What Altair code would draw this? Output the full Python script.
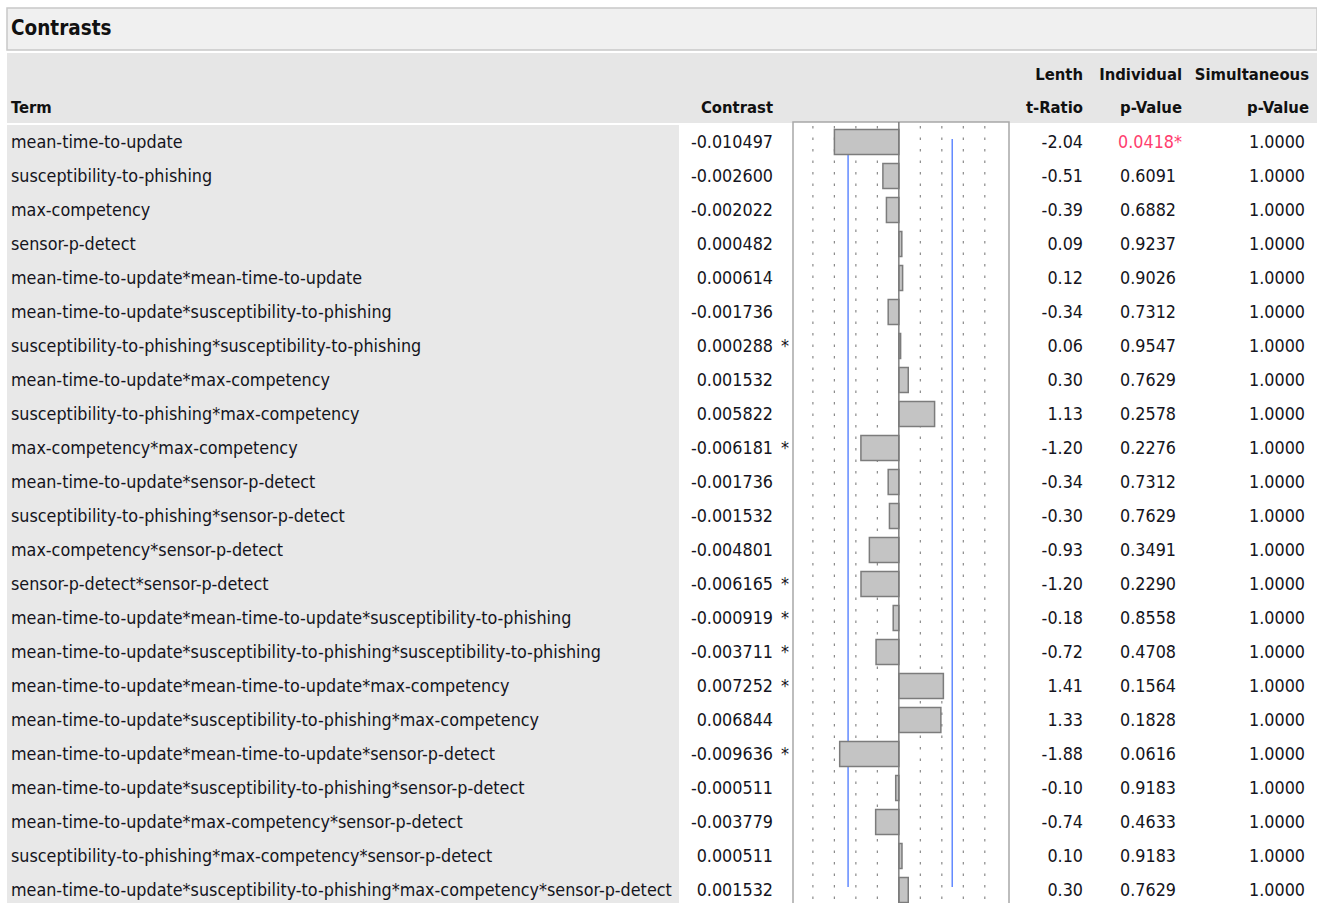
import altair as alt
import pandas as pd

terms = [
    "mean-time-to-update",
    "susceptibility-to-phishing",
    "max-competency",
    "sensor-p-detect",
    "mean-time-to-update*mean-time-to-update",
    "mean-time-to-update*susceptibility-to-phishing",
    "susceptibility-to-phishing*susceptibility-to-phishing",
    "mean-time-to-update*max-competency",
    "susceptibility-to-phishing*max-competency",
    "max-competency*max-competency",
    "mean-time-to-update*sensor-p-detect",
    "susceptibility-to-phishing*sensor-p-detect",
    "max-competency*sensor-p-detect",
    "sensor-p-detect*sensor-p-detect",
    "mean-time-to-update*mean-time-to-update*susceptibility-to-phishing",
    "mean-time-to-update*susceptibility-to-phishing*susceptibility-to-phishing",
    "mean-time-to-update*mean-time-to-update*max-competency",
    "mean-time-to-update*susceptibility-to-phishing*max-competency",
    "mean-time-to-update*mean-time-to-update*sensor-p-detect",
    "mean-time-to-update*susceptibility-to-phishing*sensor-p-detect",
    "mean-time-to-update*max-competency*sensor-p-detect",
    "susceptibility-to-phishing*max-competency*sensor-p-detect",
    "mean-time-to-update*susceptibility-to-phishing*max-competency*sensor-p-detect",
]
contrast = [-0.010497, -0.002600, -0.002022, 0.000482, 0.000614, -0.001736,
            0.000288, 0.001532, 0.005822, -0.006181, -0.001736, -0.001532,
            -0.004801, -0.006165, -0.000919, -0.003711, 0.007252, 0.006844,
            -0.009636, -0.000511, -0.003779, 0.000511, 0.001532]
contrast_flag = ["", "", "", "", "", "", "*", "", "", "*", "", "", "", "*",
                 "*", "*", "*", "", "*", "", "", "", ""]
t_ratio = [-2.04, -0.51, -0.39, 0.09, 0.12, -0.34, 0.06, 0.30, 1.13, -1.20,
           -0.34, -0.30, -0.93, -1.20, -0.18, -0.72, 1.41, 1.33, -1.88, -0.10,
           -0.74, 0.10, 0.30]
p_individual = [0.0418, 0.6091, 0.6882, 0.9237, 0.9026, 0.7312, 0.9547,
                0.7629, 0.2578, 0.2276, 0.7312, 0.7629, 0.3491, 0.2290,
                0.8558, 0.4708, 0.1564, 0.1828, 0.0616, 0.9183, 0.4633,
                0.9183, 0.7629]
p_simultaneous = [1.0] * 23
grid_values = [-0.014, -0.0105, -0.007, -0.0035, 0.0035, 0.007, 0.0105, 0.014]
margin_values = [-0.00827, 0.00869]
title_text = "Contrasts"
header_labels = ["Term", "Contrast", "Lenth", "t-Ratio", "Individual", "p-Value",
                 "Simultaneous", "p-Value"]

FONT = "DejaVu Sans Condensed, DejaVu Sans, sans-serif"
FS = 17.8
HFS = 16.5
TXT = "#141420"

df = pd.DataFrame({
    "i": list(range(len(terms))),
    "term": terms,
    "contrast": contrast,
    "cflag": contrast_flag,
    "t": t_ratio,
    "p": p_individual,
    "ps": p_simultaneous,
})
df["ctext"] = df["contrast"].map(lambda v: f"{v:.6f}")
df["ttext"] = df["t"].map(lambda v: f"{v:.2f}")
df["ptext"] = [f"{v:.4f}" + ("*" if v < 0.05 else "") for v in p_individual]
df["sig"] = [1 if v < 0.05 else 0 for v in p_individual]
df["pstext"] = df["ps"].map(lambda v: f"{v:.4f}")

xs = alt.Scale(domain=[-0.01724, 0.01794], range=[793, 1009])
ys = alt.Scale(domain=[-0.5, 22.5], range=[125, 907])

base = alt.Chart(df)
one = alt.Chart(alt.Data(values=[{"a": 1}]))

# background panels
title_bg = one.mark_rect(fill="#f0f0f0", stroke="#c8c8c8", strokeWidth=1.5).encode(
    x=alt.value(7), x2=alt.value(1317), y=alt.value(8), y2=alt.value(50))
header_bg = one.mark_rect(fill="#e6e6e6").encode(
    x=alt.value(7), x2=alt.value(1317), y=alt.value(53), y2=alt.value(123))
term_bg = one.mark_rect(fill="#e8e8e8").encode(
    x=alt.value(7), x2=alt.value(679), y=alt.value(125), y2=alt.value(903))

title = one.mark_text(text=title_text, font=FONT, fontSize=20.5, fontWeight="bold",
                      align="left", baseline="middle", color="#111111").encode(
    x=alt.value(11), y=alt.value(29))

hdr_pos = [(11, 108, "left"), (773, 108, "right"), (1083, 75, "right"),
           (1083, 108, "right"), (1182, 75, "right"), (1182, 108, "right"),
           (1309, 75, "right"), (1309, 108, "right")]
hdr_layers = []
for lab, (px, py, al) in zip(header_labels, hdr_pos):
    hdr_layers.append(one.mark_text(text=lab, font=FONT, fontSize=HFS, fontWeight="bold",
                                    align=al, baseline="middle", color="#111111").encode(
        x=alt.value(px), y=alt.value(py)))

# bar panel
box = one.mark_rect(fill="white", stroke="#a8a8a8", strokeWidth=1.5).encode(
    x=alt.value(793), x2=alt.value(1009), y=alt.value(122), y2=alt.value(905))
grid = alt.Chart(pd.DataFrame({"g": grid_values})).mark_rule(
    color="#8a8a8a", strokeDash=[2.5, 9], strokeWidth=1.2).encode(
    x=alt.X("g:Q", scale=xs, axis=None), y=alt.value(126), y2=alt.value(903))
margins = alt.Chart(pd.DataFrame({"m": margin_values})).mark_rule(
    color="#4a78ff", strokeWidth=1.3).encode(
    x=alt.X("m:Q", scale=xs, axis=None), y=alt.value(139), y2=alt.value(887))
bars = base.transform_calculate(
    y0="datum.i - 0.37", y1="datum.i + 0.37", zero="0").mark_rect(
    fill="#c4c4c4", stroke="#7c7c7c", strokeWidth=1.5).encode(
    x=alt.X("contrast:Q", scale=xs, axis=None),
    x2="zero:Q",
    y=alt.Y("y0:Q", scale=ys, axis=None),
    y2="y1:Q")
zero_line = one.transform_calculate(z="0").mark_rule(
    color="#7c7c7c", strokeWidth=1.5).encode(
    x=alt.X("z:Q", scale=xs, axis=None), y=alt.value(122), y2=alt.value(903))

def col(chart, field, px, align="left", color=TXT):
    return chart.mark_text(font=FONT, fontSize=FS, align=align, baseline="middle",
                           dy=1, color=color).encode(
        x=alt.value(px), y=alt.Y("i:Q", scale=ys, axis=None), text=f"{field}:N")

term_txt = col(base, "term", 11)
c_txt = col(base, "ctext", 773, "right")
flag_txt = col(base, "cflag", 781, "left")
t_txt = col(base, "ttext", 1083, "right")
p_txt = col(base.transform_filter("datum.sig == 0"), "ptext", 1176, "right")
p_sig_txt = col(base.transform_filter("datum.sig == 1"), "ptext", 1182, "right",
                color="#ff3d6e")
ps_txt = col(base, "pstext", 1305, "right")

chart = alt.layer(
    title_bg, header_bg, term_bg, title, *hdr_layers,
    box, grid, margins, bars, zero_line,
    term_txt, c_txt, flag_txt, t_txt, p_txt, p_sig_txt, ps_txt,
).properties(
    width=1317, height=903, padding=0, autosize="none", background="white"
).configure_view(stroke=None)

chart.save("out.html", embed_options={"renderer": "svg", "actions": False})
